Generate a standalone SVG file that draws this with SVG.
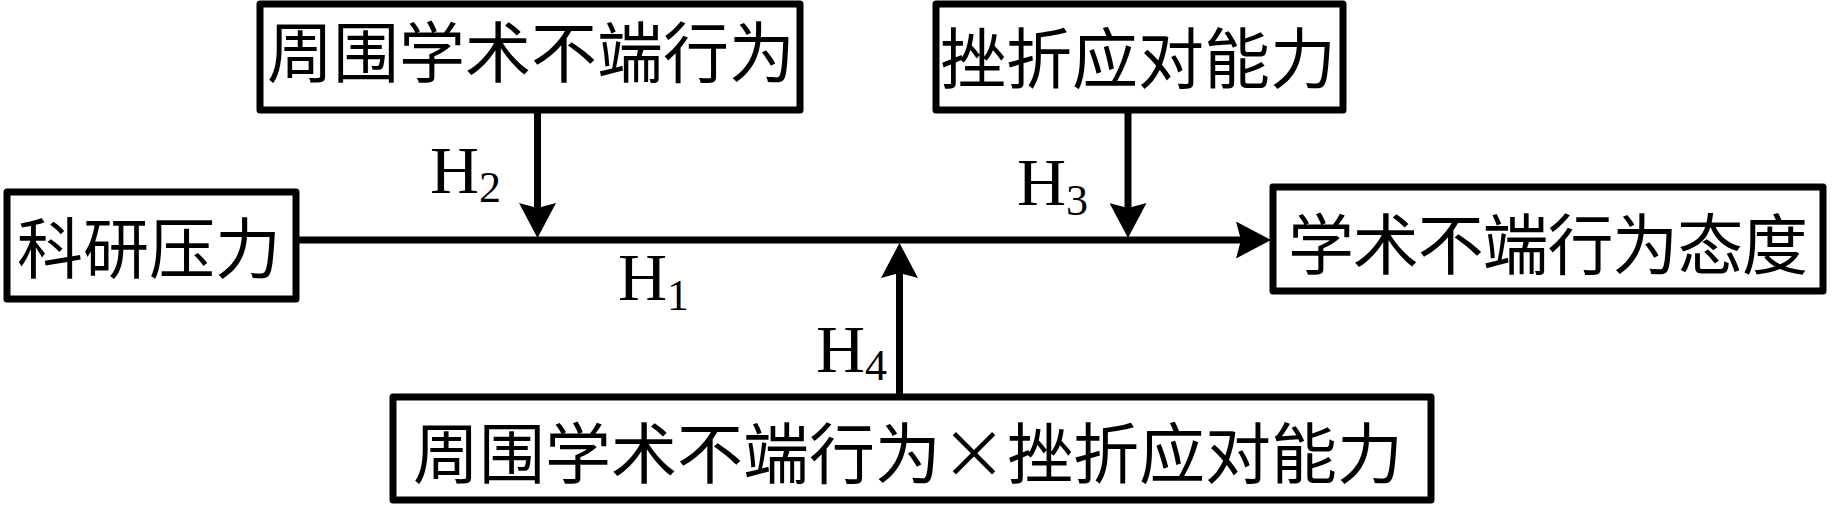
<svg xmlns="http://www.w3.org/2000/svg" width="1832" height="507" viewBox="0 0 1832 507">
<style>
.box{fill:#fff;stroke:#000;stroke-width:7;stroke-linejoin:round}
.cn{font-family:"Noto Sans CJK SC","Noto Sans CJK JP",sans-serif;font-size:66px;fill:#000;text-anchor:middle;dominant-baseline:central}
.h{font-family:"Liberation Serif","Times New Roman",serif;font-size:68px;fill:#000}
.sub{font-size:44px}
.ln{fill:none;stroke:#000;stroke-width:7}
</style>
<defs>
<marker id="arr" markerUnits="userSpaceOnUse" viewBox="0 0 35 37" markerWidth="35" markerHeight="37" refX="5" refY="18.5" orient="auto">
<path d="M0,0 L35,18.5 L0,37 L5,18.5 Z" fill="#000"/>
</marker>
</defs>
<rect width="1832" height="507" fill="#fff"/>
<g id="connectors">
<line class="ln" x1="296" y1="240" x2="1241" y2="240" marker-end="url(#arr)"/>
<line class="ln" x1="537.5" y1="110" x2="537.5" y2="208" marker-end="url(#arr)"/>
<line class="ln" x1="1128" y1="110" x2="1128" y2="208" marker-end="url(#arr)"/>
<line class="ln" x1="899.5" y1="397" x2="899.5" y2="273" marker-end="url(#arr)"/>
</g>
<g id="node-surround">
<rect class="box" x="260" y="4" width="540" height="106"/>
<text class="cn" x="531" y="48">周围学术不端行为</text>
</g>
<g id="node-frustration">
<rect class="box" x="936" y="4" width="407" height="106"/>
<text class="cn" x="1138" y="54">挫折应对能力</text>
</g>
<g id="node-pressure">
<rect class="box" x="7" y="192" width="289" height="107"/>
<text class="cn" x="149" y="244">科研压力</text>
</g>
<g id="node-attitude">
<rect class="box" x="1273" y="187" width="550" height="104"/>
<text class="cn" x="1548" y="240" textLength="520" lengthAdjust="spacing">学术不端行为态度</text>
</g>
<g id="node-interaction">
<rect class="box" x="393" y="397" width="1038" height="103"/>
<text class="cn" x="908" y="449">周围学术不端行为×挫折应对能力</text>
</g>
<g id="labels">
<text class="h" x="430" y="193">H<tspan class="sub" dy="9">2</tspan></text>
<text class="h" x="1017" y="205">H<tspan class="sub" dy="10">3</tspan></text>
<text class="h" x="618" y="300">H<tspan class="sub" dy="10">1</tspan></text>
<text class="h" x="816" y="372">H<tspan class="sub" dy="8">4</tspan></text>
</g>
</svg>
